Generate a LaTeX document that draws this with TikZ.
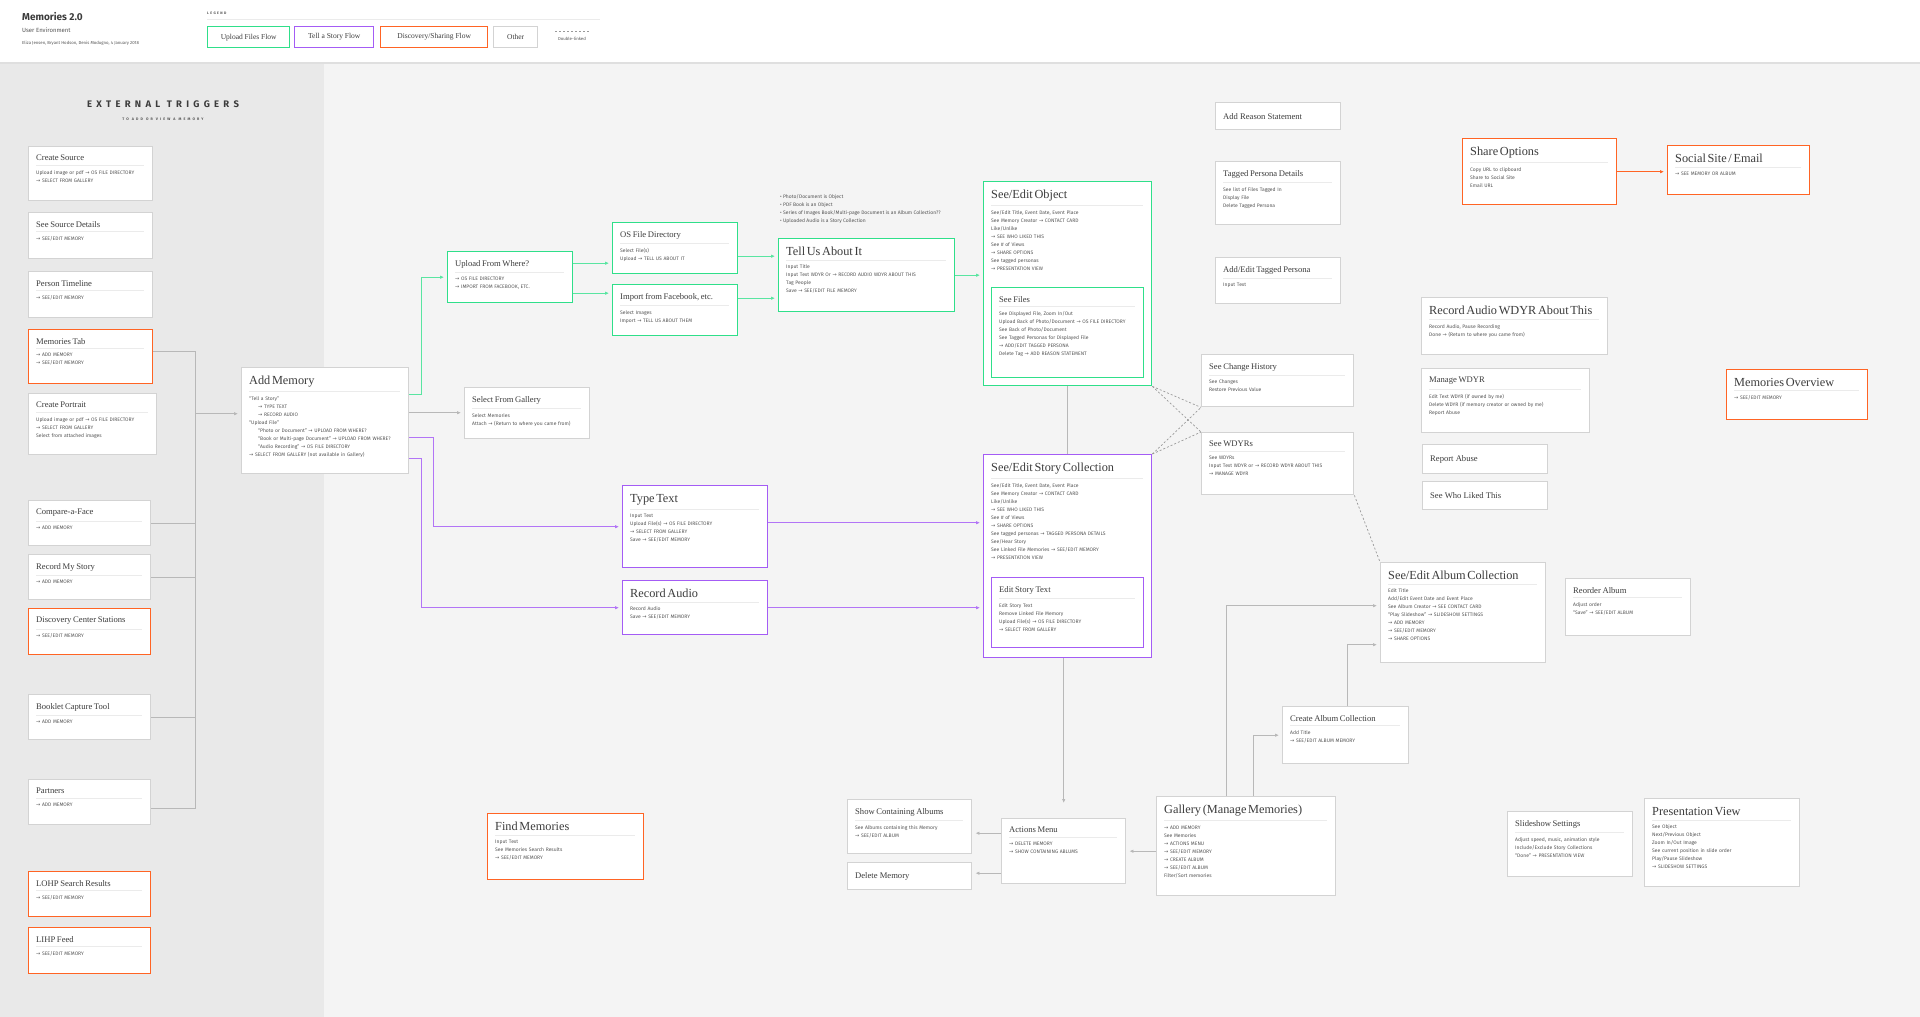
\documentclass[tikz,border=0pt]{standalone}
\usepackage{fontspec}
\usetikzlibrary{arrows.meta}
\setmainfont{Liberation Serif}
\newfontfamily\bodyf{Fira Sans}
\newfontfamily\arf{DejaVu Sans}
\setlength\parindent{0pt}
\definecolor{bgl}{HTML}{F4F4F4}
\definecolor{bgd}{HTML}{E9E9E9}
\definecolor{grb}{HTML}{D3D3D3}
\definecolor{gnb}{HTML}{2FDF8A}
\definecolor{ppb}{HTML}{A45CF5}
\definecolor{orb}{HTML}{FF6424}
\definecolor{titc}{HTML}{3C3C3C}
\definecolor{bodyc}{HTML}{555555}
\definecolor{rulec}{HTML}{EBEBEB}
\definecolor{lnc}{HTML}{B8B8B8}
\newcommand\bdy{\bodyf\fontsize{5}{8}\selectfont}
\newcommand\btl{\rmfamily\fontsize{12.3}{14}\selectfont}
\newcommand\mtl{\rmfamily\fontsize{8.6}{10}\selectfont}
\newcommand\ra{{\arf →}}
\newcommand{\bx}[9]{%
 \pgfmathsetmacro\bw{#4-#2}\pgfmathsetmacro\bh{#5-#3}\pgfmathsetmacro\tw{#4-#2-16}%
 \node[#6,inner sep=0pt,minimum width=\bw pt,minimum height=\bh pt,anchor=north west] (#1) at (#2pt,-#3pt) {};
 \node[anchor=north west,inner sep=0pt,text width=\tw pt,font=\bdy,text=bodyc] (#1-t) at ([xshift=8pt,yshift=-9pt]#1.north west) {\raggedright{#7\color{titc}#8\par}\vspace{4pt}{\color{rulec}\hrule height .7pt}\vspace{4.5pt}#9};}
\newcommand{\bxs}[7]{%
 \pgfmathsetmacro\bw{#4-#2}\pgfmathsetmacro\bh{#5-#3}%
 \node[#6,inner sep=0pt,minimum width=\bw pt,minimum height=\bh pt,anchor=north west] (#1) at (#2pt,-#3pt) {};
 \node[anchor=west,inner sep=0pt,font=\mtl,text=titc] (#1-t) at ([xshift=8pt]#1.west) {#7};}
\tikzset{
 gbox/.style={draw=grb,line width=1.4pt,fill=white},
 gnbox/.style={draw=gnb,line width=1.4pt,fill=white},
 ppbox/.style={draw=ppb,line width=1.4pt,fill=white},
 orbox/.style={draw=orb,line width=1.4pt,fill=white},
 tip/.style={-{Latex[length=4pt,width=3.5pt]},shorten >=3pt},
 gl/.style={draw=lnc,line width=1pt},
 gnl/.style={draw=gnb!80,line width=1pt},
 ppl/.style={draw=ppb!85,line width=1pt},
 orl/.style={draw=orb,line width=0.9pt},
 dotl/.style={draw=gray!80,line width=0.7pt,dash pattern=on 2pt off 2pt},
}
\begin{document}
\begin{tikzpicture}
\useasboundingbox (0,0) rectangle (1920pt,-1017pt);
\fill[bgl] (0,-62pt) rectangle (1920pt,-1017pt);
\fill[bgd] (0,-62pt) rectangle (324pt,-1017pt);
\fill[gray!25] (0,-62pt) rectangle (1920pt,-64pt);
\fill[white] (0,0) rectangle (1920pt,-62pt);
% header
\node[anchor=west,inner sep=0,font=\bodyf\bfseries\fontsize{10}{12}\selectfont,text=titc] (hdr) at (22pt,-17pt) {Memories 2.0};
\node[anchor=west,inner sep=0,font=\bodyf\fontsize{6}{7}\selectfont,text=bodyc] (hdr2) at (22pt,-30pt) {User Environment};
\node[anchor=west,inner sep=0,font=\bodyf\fontsize{4.3}{5}\selectfont,text=bodyc] (hdr3) at (22pt,-43pt) {Eliza Jensen, Bryant Hodson, Denis Modugno, 4 January 2018};
\node[anchor=west,inner sep=0,font=\bodyf\bfseries\fontsize{3.5}{4}\selectfont\addfontfeatures{LetterSpace=40},text=bodyc] (leg) at (207pt,-13pt) {LEGEND};
\draw[rulec,line width=0.8pt] (207pt,-19.5pt) -- (600pt,-19.5pt);
\bxs{l1}{207}{26}{289}{47}{gnbox}{}
\bxs{l2}{294}{26}{373}{47}{ppbox}{}
\bxs{l3}{380}{26}{487}{47}{orbox}{}
\bxs{l4}{493}{26}{537}{47}{gbox}{}
\node[font=\fontsize{7.5}{9}\selectfont,text=titc] (l1t) at (l1) {Upload Files Flow};
\node[font=\fontsize{7.5}{9}\selectfont,text=titc] (l2t) at (l2) {Tell a Story Flow};
\node[font=\fontsize{7.5}{9}\selectfont,text=titc] (l3t) at (l3) {Discovery/Sharing Flow};
\node[font=\fontsize{7.5}{9}\selectfont,text=titc] (l4t) at (l4) {Other};
\coordinate (dla) at (555pt,-31pt); \coordinate (dlb) at (590pt,-31pt);
\draw[dotl] (dla) -- (dlb);
\node[font=\bodyf\fontsize{4.3}{5}\selectfont,text=bodyc] (dlt) at (572pt,-39pt) {Double-linked};
% left panel
\node[font=\bodyf\bfseries\fontsize{9.5}{11}\selectfont\addfontfeatures{LetterSpace=45},text=titc] (ext) at (163pt,-104pt) {EXTERNAL TRIGGERS};
\node[font=\bodyf\bfseries\fontsize{3.6}{4}\selectfont\addfontfeatures{LetterSpace=60},text=bodyc] (ext2) at (163pt,-119pt) {TO ADD OR VIEW A MEMORY};
\bx{cs}{28}{146}{152}{200}{gbox}{\mtl}{Create Source}{Upload image or pdf \ra{} OS FILE DIRECTORY\\\ra{} SELECT FROM GALLERY}
\bx{ssd}{28}{212}{152}{258}{gbox}{\mtl}{See Source Details}{\ra{} SEE/EDIT MEMORY}
\bx{ptl}{28}{271}{152}{317}{gbox}{\mtl}{Person Timeline}{\ra{} SEE/EDIT MEMORY}
\bx{memtab}{28}{329}{152}{383}{orbox}{\mtl}{Memories Tab}{\ra{} ADD MEMORY\\\ra{} SEE/EDIT MEMORY}
\bx{cp}{28}{393}{156}{454}{gbox}{\mtl}{Create Portrait}{Upload image or pdf \ra{} OS FILE DIRECTORY\\\ra{} SELECT FROM GALLERY\\Select from attached images}
\bx{caf}{28}{500}{150}{545}{gbox}{\mtl}{Compare-a-Face}{\ra{} ADD MEMORY}
\bx{rms}{28}{554}{150}{599}{gbox}{\mtl}{Record My Story}{\ra{} ADD MEMORY}
\bx{dcs}{28}{608}{150}{654}{orbox}{\mtl}{Discovery Center Stations}{\ra{} SEE/EDIT MEMORY}
\bx{bct}{28}{694}{150}{739}{gbox}{\mtl}{Booklet Capture Tool}{\ra{} ADD MEMORY}
\bx{prt}{28}{779}{150}{824}{gbox}{\mtl}{Partners}{\ra{} ADD MEMORY}
\bx{lohp}{28}{871}{150}{916}{orbox}{\mtl}{LOHP Search Results}{\ra{} SEE/EDIT MEMORY}
\bx{lihp}{28}{927}{150}{973}{orbox}{\mtl}{LIHP Feed}{\ra{} SEE/EDIT MEMORY}
% main
\bx{addmem}{241}{367}{408}{473}{gbox}{\btl}{Add Memory}{“Tell a Story”\\\hspace*{9pt}\ra{} TYPE TEXT\\\hspace*{9pt}\ra{} RECORD AUDIO\\“Upload File”\\\hspace*{9pt}“Photo or Document” \ra{} UPLOAD FROM WHERE?\\\hspace*{9pt}“Book or Multi-page Document” \ra{} UPLOAD FROM WHERE?\\\hspace*{9pt}“Audio Recording” \ra{} OS FILE DIRECTORY\\\ra{} SELECT FROM GALLERY (not available in Gallery)}
\bx{upload}{447}{251}{572}{302}{gnbox}{\mtl}{Upload From Where?}{\ra{} OS FILE DIRECTORY\\\ra{} IMPORT FROM FACEBOOK, ETC.}
\bx{osdir}{612}{222}{737}{273}{gnbox}{\mtl}{OS File Directory}{Select File(s)\\Upload \ra{} TELL US ABOUT IT}
\bx{import}{612}{284}{737}{335}{gnbox}{\mtl}{Import from Facebook, etc.}{Select Images\\Import \ra{} TELL US ABOUT THEM}
\bx{selgal}{464}{387}{589}{438}{gbox}{\mtl}{Select From Gallery}{Select Memories\\Attach \ra{} (Return to where you came from)}
\node[anchor=north west,inner sep=0,font=\bdy,text=bodyc,align=left] (notes) at (780pt,-194pt) {• Photo/Document is Object\\• PDF Book is an Object\\• Series of Images Book/Multi-page Document is an Album Collection??\\• Uploaded Audio is a Story Collection};
\bx{tellus}{778}{238}{954}{311}{gnbox}{\btl}{Tell Us About It}{Input Title\\Input Text WDYR Or \ra{} RECORD AUDIO WDYR ABOUT THIS\\Tag People\\Save \ra{} SEE/EDIT FILE MEMORY}
\bx{typetext}{622}{485}{767}{567}{ppbox}{\btl}{Type Text}{Input Text\\Upload File(s) \ra{} OS FILE DIRECTORY\\\ra{} SELECT FROM GALLERY\\Save \ra{} SEE/EDIT MEMORY}
\bx{recaudio}{622}{580}{767}{634}{ppbox}{\btl}{Record Audio}{Record Audio\\Save \ra{} SEE/EDIT MEMORY}
\bx{obj}{983}{181}{1151}{385}{gnbox}{\btl}{See/Edit Object}{See/Edit Title, Event Date, Event Place\\See Memory Creator \ra{} CONTACT CARD\\Like/Unlike\\\ra{} SEE WHO LIKED THIS\\See \# of Views\\\ra{} SHARE OPTIONS\\See tagged personas\\\ra{} PRESENTATION VIEW}
\bx{seefiles}{991}{287}{1143}{377}{gnbox}{\mtl}{See Files}{See Displayed File, Zoom In/Out\\Upload Back of Photo/Document \ra{} OS FILE DIRECTORY\\See Back of Photo/Document\\See Tagged Personas for Displayed File\\\ra{} ADD/EDIT TAGGED PERSONA\\Delete Tag \ra{} ADD REASON STATEMENT}
\bx{story}{983}{454}{1151}{657}{ppbox}{\btl}{See/Edit Story Collection}{See/Edit Title, Event Date, Event Place\\See Memory Creator \ra{} CONTACT CARD\\Like/Unlike\\\ra{} SEE WHO LIKED THIS\\See \# of Views\\\ra{} SHARE OPTIONS\\See tagged personas \ra{} TAGGED PERSONA DETAILS\\See/Hear Story\\See Linked File Memories \ra{} SEE/EDIT MEMORY\\\ra{} PRESENTATION VIEW}
\bx{editstory}{991}{577}{1143}{647}{ppbox}{\mtl}{Edit Story Text}{Edit Story Text\\Remove Linked File Memory\\Upload File(s) \ra{} OS FILE DIRECTORY\\\ra{} SELECT FROM GALLERY}
\bxs{ars}{1215}{102}{1340}{129}{gbox}{Add Reason Statement}
\bx{tpd}{1215}{161}{1340}{224}{gbox}{\mtl}{Tagged Persona Details}{See list of Files Tagged In\\Display File\\Delete Tagged Persona}
\bx{aetp}{1215}{257}{1340}{303}{gbox}{\mtl}{Add/Edit Tagged Persona}{Input Text}
\bx{chist}{1201}{354}{1353}{406}{gbox}{\mtl}{See Change History}{See Changes\\Restore Previous Value}
\bx{wdyrs}{1201}{432}{1353}{494}{gbox}{\mtl}{See WDYRs}{See WDYRs\\Input Text WDYR or \ra{} RECORD WDYR ABOUT THIS\\\ra{} MANAGE WDYR}
\bx{share}{1462}{138}{1616}{204}{orbox}{\btl}{Share Options}{Copy URL to clipboard\\Share to Social Site\\Email URL}
\bx{social}{1667}{145}{1809}{194}{orbox}{\btl}{Social Site / Email}{\ra{} SEE MEMORY OR ALBUM}
\bx{rawdyr}{1421}{297}{1607}{354}{gbox}{\btl}{Record Audio WDYR About This}{Record Audio, Pause Recording\\Done \ra{} (Return to where you came from)}
\bx{mwdyr}{1421}{368}{1589}{432}{gbox}{\mtl}{Manage WDYR}{Edit Text WDYR (if owned by me)\\Delete WDYR (if memory creator or owned by me)\\Report Abuse}
\bxs{rabuse}{1422}{444}{1547}{473}{gbox}{Report Abuse}
\bxs{swlt}{1422}{481}{1547}{509}{gbox}{See Who Liked This}
\bx{memov}{1726}{369}{1867}{419}{orbox}{\btl}{Memories Overview}{\ra{} SEE/EDIT MEMORY}
\bx{album}{1380}{562}{1545}{662}{gbox}{\btl}{See/Edit Album Collection}{Edit Title\\Add/Edit Event Date and Event Place\\See Album Creator \ra{} SEE CONTACT CARD\\“Play Slideshow” \ra{} SLIDESHOW SETTINGS\\\ra{} ADD MEMORY\\\ra{} SEE/EDIT MEMORY\\\ra{} SHARE OPTIONS}
\bx{reorder}{1565}{578}{1690}{635}{gbox}{\mtl}{Reorder Album}{Adjust order\\“Save” \ra{} SEE/EDIT ALBUM}
\bx{createalb}{1282}{706}{1408}{763}{gbox}{\mtl}{Create Album Collection}{Add Title\\\ra{} SEE/EDIT ALBUM MEMORY}
\bx{findmem}{487}{813}{643}{879}{orbox}{\btl}{Find Memories}{Input Text\\See Memories Search Results\\\ra{} SEE/EDIT MEMORY}
\bx{showalb}{847}{799}{971}{853}{gbox}{\mtl}{Show Containing Albums}{See Albums containing this Memory\\\ra{} SEE/EDIT ALBUM}
\bxs{delmem}{847}{862}{971}{889}{gbox}{Delete Memory}
\bx{actions}{1001}{818}{1125}{883}{gbox}{\mtl}{Actions Menu}{\ra{} DELETE MEMORY\\\ra{} SHOW CONTAINING ABLUMS}
\bx{gallery}{1156}{796}{1335}{895}{gbox}{\btl}{Gallery (Manage Memories)}{\ra{} ADD MEMORY\\See Memories\\\ra{} ACTIONS MENU\\\ra{} SEE/EDIT MEMORY\\\ra{} CREATE ALBUM\\\ra{} SEE/EDIT ALBUM\\Filter/Sort memories}
\bx{slides}{1507}{811}{1632}{876}{gbox}{\mtl}{Slideshow Settings}{Adjust speed, music, animation style\\Include/Exclude Story Collections\\“Done” \ra{} PRESENTATION VIEW}
\bx{presv}{1644}{798}{1799}{886}{gbox}{\btl}{Presentation View}{See Object\\Next/Previous Object\\Zoom In/Out Image\\See current position in slide order\\Play/Pause Slideshow\\\ra{} SLIDESHOW SETTINGS}
% connectors: left bus
\coordinate (bt) at (195pt,0);
\draw[gl] ([yshift=5pt]memtab.east) -- ([yshift=5pt]memtab.east -| bt) -- ([yshift=-6pt]prt.east -| bt) -- ([yshift=-6pt]prt.east);
\draw[gl] (caf.east) -- (caf.east -| bt);
\draw[gl] (rms.east) -- (rms.east -| bt);
\draw[gl] (bct.east) -- (bct.east -| bt);
\draw[gl,tip] ([yshift=7pt]addmem.west -| bt) -- ([yshift=7pt]addmem.west);
% upload flow
\draw[gnl,tip] ([yshift=26pt]addmem.east) -- ++(12pt,0) |- (upload.west);
\draw[gnl,tip] ([yshift=14pt]upload.east) -- ([yshift=14pt]upload.east -| osdir.west);
\draw[gnl,tip] ([yshift=-16pt]upload.east) -- ([yshift=-16pt]upload.east -| import.west);
\draw[gnl,tip] ([yshift=-8pt]osdir.east) -- ([yshift=-8pt]osdir.east -| tellus.west);
\draw[gnl,tip] ([yshift=12pt]import.east) -- ([yshift=12pt]import.east -| tellus.west);
\draw[gnl,tip] (tellus.east) -- (tellus.east -| obj.west);
\draw[gl,tip] ([yshift=8pt]addmem.east) -- ([yshift=8pt]addmem.east -| selgal.west);
% story flow
\draw[ppl,tip] ([yshift=-17pt]addmem.east) -- ++(24pt,0) |- (typetext.west);
\draw[ppl,tip] ([yshift=-38pt]addmem.east) -- ++(12pt,0) |- (recaudio.west);
\draw[ppl,tip] ([yshift=4pt]typetext.east) -- ([yshift=4pt]typetext.east -| story.west);
\draw[ppl,tip] (recaudio.east) -- (recaudio.east -| story.west);
% gray
\draw[gl] (obj.south) -- (story.north);
\draw[gl,tip] (story.south -| actions.north) -- ([yshift=12pt]actions.north);
\draw[gl,tip] (actions.east -| gallery.west) -- (actions.east);
\draw[gl,tip] ([yshift=18pt]actions.west) -- ([yshift=18pt]actions.west -| showalb.east);
\draw[gl,tip] ([yshift=-22pt]actions.west) -- ([yshift=-22pt]actions.west -| delmem.east);
\coordinate (g1) at (1226pt,-796pt);
\coordinate (g2) at (1253pt,-796pt);
\draw[gl,tip] (g1) |- ([yshift=7pt]album.west);
\draw[gl,tip] (g2) |- (createalb.west);
\draw[gl,tip] ([xshift=2pt]createalb.north) |- ([yshift=-32pt]album.west);
% dotted
\draw[dotl] (obj.south east) -- (chist.south west);
\draw[dotl] (obj.south east) -- (wdyrs.north west);
\draw[dotl] (story.north east) -- (chist.south west);
\draw[dotl] (story.north east) -- (wdyrs.north west);
\draw[dotl] (wdyrs.south east) -- (album.north west);
% share
\draw[orl,tip] (share.east) -- (share.east -| social.west);
\end{tikzpicture}
\end{document}
